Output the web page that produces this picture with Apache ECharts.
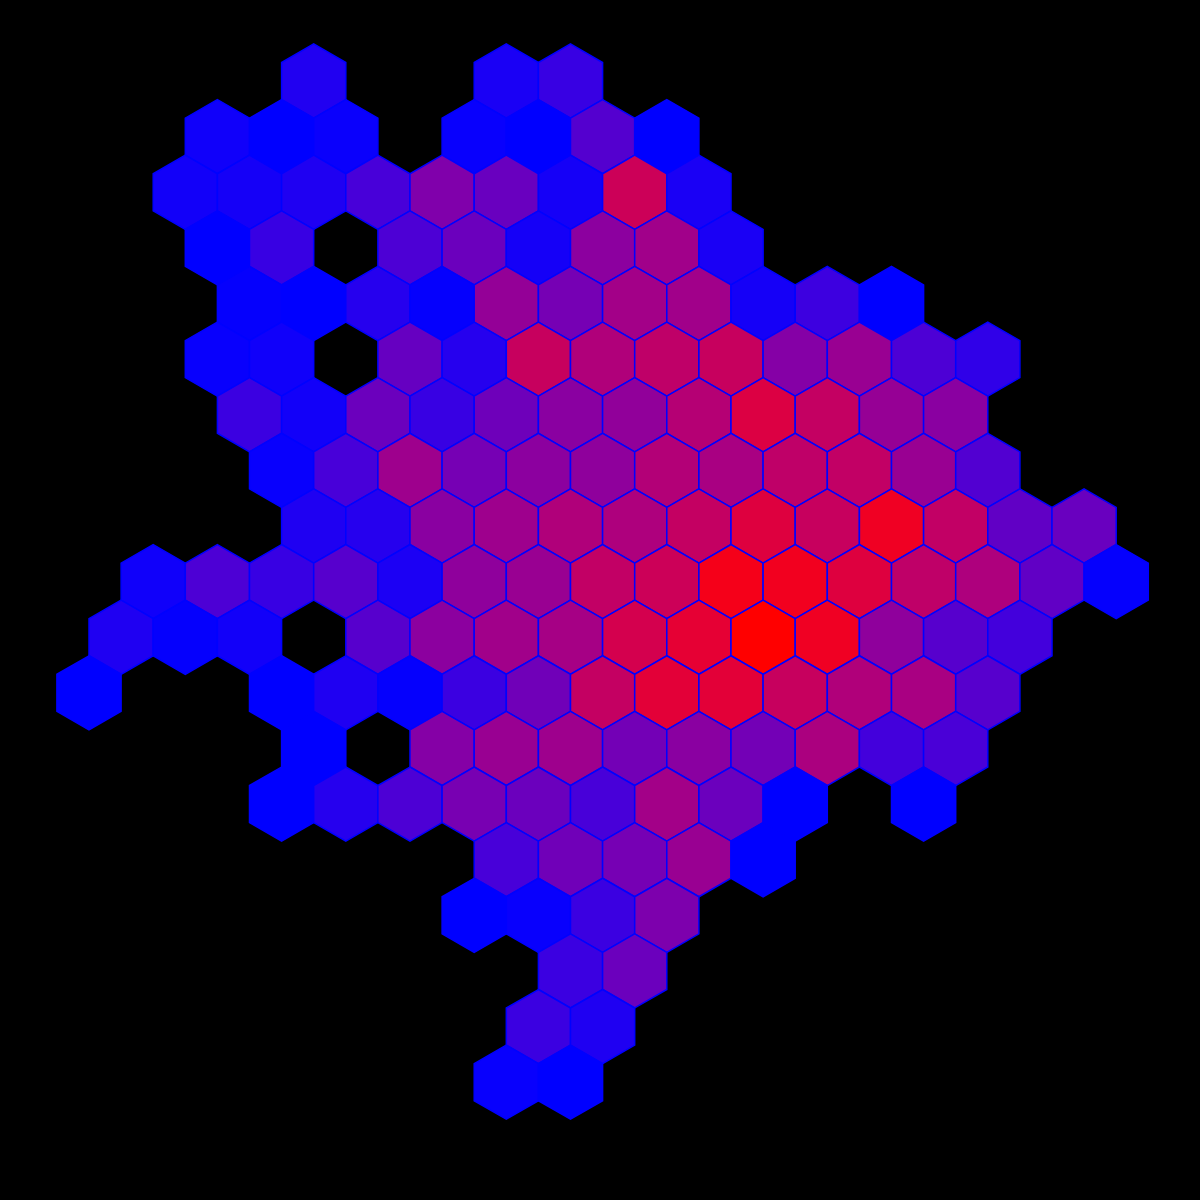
<!DOCTYPE html>
<html>
<head>
<meta charset="utf-8">
<script src="https://cdn.jsdelivr.net/npm/echarts@6/dist/echarts.min.js"></script>
<style>
html,body{margin:0;padding:0;background:#000;}
#chart{width:1200px;height:1200px;}
</style>
</head>
<body>
<div id="chart"></div>
<script>
// Hex bin rows: column position of the first bin in each row (in hex-width units)
const rowStart = [3.5, 2, 1.5, 2, 2.5, 2, 2.5, 3, 3.5, 1, 0.5, 0, 3.5, 3, 6.5, 6, 7.5, 7, 6.5];
// Bin values per row (null = no bin at that position)
const row0  = [13, null, null, 10, 22];
const row1  = [6, 0, 4, null, 3, 0, 33, 0];
const row2  = [7, 8, 12, 28, 50, 41, 8, 80, 10];
const row3  = [0, 22, null, 30, 42, 8, 55, 63, 10];
const row4  = [2, 0, 15, 2, 58, 46, 64, 63, 8, 24, 0];
const row5  = [3, 6, null, 40, 15, 78, 69, 75, 78, 52, 60, 30, 19];
const row6  = [23, 7, 42, 22, 43, 54, 57, 71, 86, 77, 59, 54];
const row7  = [3, 28, 62, 46, 55, 56, 70, 66, 75, 76, 60, 32];
const row8  = [12, 15, 54, 62, 69, 68, 77, 87, 78, 94, 76, 38, 41];
const row9  = [6, 30, 22, 34, 11, 56, 60, 76, 80, 96, 95, 87, 75, 68, 38, 2];
const row10 = [12, 2, 7, null, 34, 55, 63, 65, 83, 90, 100, 94, 56, 34, 26];
const row11 = [0, null, null, 0, 12, 2, 23, 44, 77, 89, 89, 78, 69, 66, 34];
const row12 = [0, null, 52, 60, 62, 45, 54, 45, 67, 26, 29];
const row13 = [0, 15, 30, 47, 42, 28, 64, 42, 0, null, 0];
const row14 = [28, 44, 46, 60, 0];
const row15 = [0, 3, 23, 49];
const row16 = [23, 42];
const row17 = [23, 12];
const row18 = [3, 0];
const rowValues = [row0,row1,row2,row3,row4,row5,row6,row7,row8,row9,row10,row11,row12,row13,row14,row15,row16,row17,row18];

const data = [];
rowValues.forEach(function (vals, r) {
  vals.forEach(function (v, i) {
    if (v !== null) data.push([rowStart[r] + i, r, v]);
  });
});

// blue -> red colour ramp (slightly brighter through the purples)
const rampStops = [];
const G = 1.3;
for (let i = 0; i <= 20; i++) {
  const r = i / 20;
  const R = Math.round(255 * r);
  const B = Math.round(255 * Math.pow(Math.max(0, 1 - Math.pow(r, G)), 1 / G));
  rampStops.push('rgb(' + R + ',0,' + B + ')');
}

const chart = echarts.init(document.getElementById('chart'), null, {renderer: 'canvas'});
chart.setOption({
  backgroundColor: '#000000',
  animation: false,
  grid: {left: 24.8, top: 25.4, width: 1155.6, height: 1112.4, containLabel: false},
  xAxis: {type: 'value', min: -1, max: 17, show: false},
  yAxis: {type: 'value', min: -1, max: 19, inverse: true, show: false},
  visualMap: {
    type: 'continuous', show: false, min: 0, max: 100, dimension: 2, seriesIndex: 0,
    inRange: {color: rampStops}
  },
  series: [{
    type: 'custom',
    coordinateSystem: 'cartesian2d',
    data: data,
    encode: {x: 0, y: 1},
    renderItem: function (params, api) {
      const c = api.coord([api.value(0), api.value(1)]);
      const w = api.size([1, 1])[0];
      const R = w / Math.sqrt(3);
      const pts = [];
      for (let k = 0; k < 6; k++) {
        const a = Math.PI / 180 * (60 * k - 90);
        pts.push([c[0] + R * Math.cos(a), c[1] + R * Math.sin(a)]);
      }
      return {
        type: 'polygon',
        shape: {points: pts},
        style: {fill: api.visual('color'), stroke: '#0000ff', lineWidth: 1.5}
      };
    }
  }]
});
</script>
</body>
</html>
